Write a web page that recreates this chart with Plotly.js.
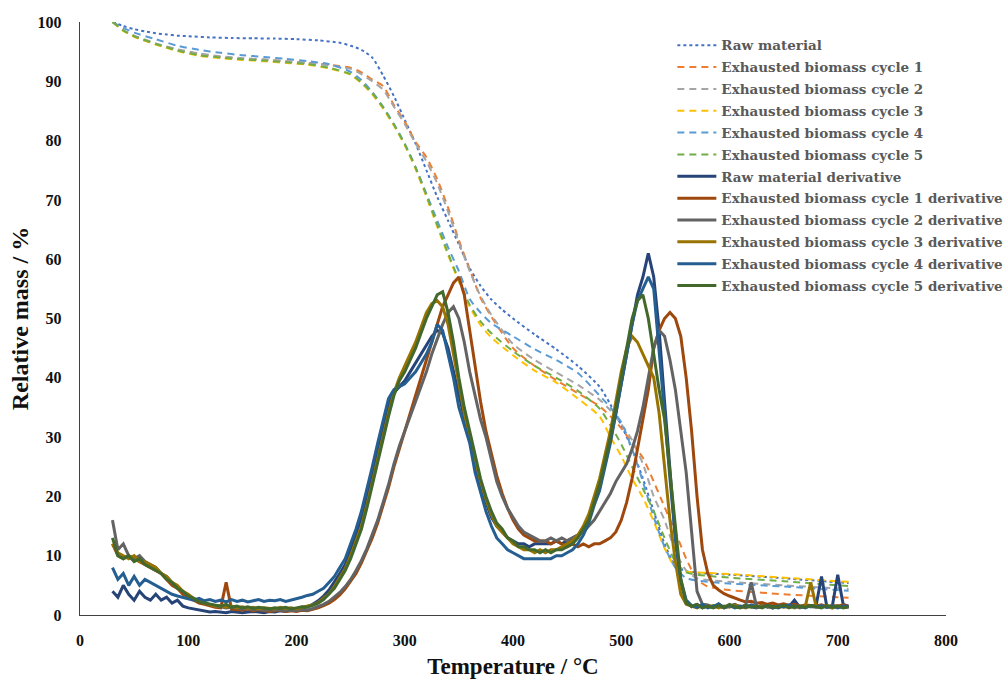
<!DOCTYPE html>
<html>
<head>
<meta charset="utf-8">
<script src="https://cdn.plot.ly/plotly-3.0.1.min.js"></script>
<style>html,body{margin:0;padding:0;background:#fff;}#chart{width:1007px;height:679px;}</style>
</head>
<body>
<div id="chart"></div>
<script>
// ---------- TG curves (relative mass) ----------
const tgRawT = [30,40,50,60,70,80,90,100,120,140,160,180,200,220,240,250,260,270,280,290,300,310,320,330,340,350,360,370,380,390,400,420,440,460,480,490,500,510,520,530,540,550,560,580,600,650,700,710];
const tgRaw  = [100,99.3,98.8,98.4,98.1,97.9,97.7,97.6,97.4,97.3,97.25,97.2,97.1,96.9,96.5,96,95.3,94,91,87.5,83.5,79.5,75,70.5,66.5,62.5,58.5,55.5,53.2,51.5,50,47.3,44.8,42,38.5,35.5,32,28,23,17.5,12,8.3,7.4,7,6.8,6.2,5.5,5.4];

const tgCycT345 = [30,40,50,70,90,110,130,150,170,190,210,230,250,260,270,280,290,300,310,320,330,340,350,360,370,380,400,420,440,460,480,490,500,510,520,530,540,550,560,580,600,650,700,710];
const tgC3 = [100,98.5,97.5,96.2,95.1,94.3,93.9,93.6,93.4,93.1,92.8,92.2,91.1,89.7,87.8,85.4,82.5,79.2,75.2,70.5,65.5,60.7,56.2,52,48.9,46.8,43.8,41.2,39.2,36.5,33.5,30,26.8,23,19.8,15.8,11.3,8,7.3,7.1,6.9,6.3,5.7,5.6];
const tgC4 = [100,99,98.2,97.1,96,95.3,94.8,94.4,94.1,93.8,93.4,92.9,91.6,90.2,88.2,85.7,82.8,79.5,75.5,71,66.5,62,58,53.3,51,49.2,47,44.8,43,40.8,37,35,32.5,28,22.5,16.5,11.5,8,6.2,5.6,5.3,4.8,4.2,4.1];
const tgC5 = [100,98.6,97.6,96.3,95.2,94.4,94,93.7,93.5,93.2,92.9,92.3,91.2,89.8,88,85.6,82.7,79.4,75.5,70.8,65.8,61,56.5,52.3,49.5,47.5,44.5,42,40,37.8,34.8,32,28.8,25,21.3,17.5,13,9,7.2,6.6,6.3,5.7,5.0,4.9];

const tgCycT12 = [30,40,50,70,90,110,130,150,170,190,210,230,250,260,270,280,290,300,310,320,330,340,350,360,370,380,400,420,440,460,480,490,500,510,520,530,540,550,560,570,580,600,650,700,710];
const tgC1 = [100,98.6,97.6,96.3,95.3,94.6,94.1,93.8,93.6,93.4,93.1,92.8,92.3,91.5,90.3,89.2,86,83.2,79.8,77.2,73.5,68.7,63.2,58.3,53.5,50.3,45,42,39.6,37.4,35.2,33.5,31.5,29,26.5,22.5,18.2,14,9.5,6,4.8,4.2,3.5,3.0,2.9];
const tgC2 = [100,98.6,97.7,96.4,95.4,94.7,94.2,93.9,93.7,93.4,93.1,92.7,92.1,91.2,90,88.6,85.7,82.8,79.5,76.5,72.8,68,62.8,58,53.8,50.6,45.7,43,40.9,38.8,36.3,34.5,32.2,29.5,25.5,20,16,10.7,7.5,6.2,5.9,5.6,5.0,4.5,4.4];

// ---------- derivative curves ----------
const dT = [30,35,40,45,50,55,60,65,70,75,80,85,90,95,100,105,110,115,120,125,130,135,140,145,150,155,160,165,170,175,180,185,190,195,200,205,210,215,220,225,230,235,240,245,250,255,260,265,270,275,280,285,290,295,300,305,310,315,320,325,330,335,340,345,350,355,360,365,370,375,380,385,390,395,400,405,410,415,420,425,430,435,440,445,450,455,460,465,470,475,480,485,490,495,500,505,510,515,520,525,530,535,540,545,550,555,560,565,570,575,580,585,590,595,600,605,610,615,620,625,630,635,640,645,650,655,660,665,670,675,680,685,690,695,700,705,710];

const dRaw = [4,3,5,3.5,2.5,4,3,2.5,3.5,2.5,
  3,2,2.5,1.5,1.2,1,0.8,0.6,0.5,0.6,
  0.5,0.4,0.6,0.5,0.4,0.5,0.6,0.5,0.4,0.6,
  0.5,0.7,0.6,0.8,0.9,1.1,1.4,1.8,2.4,3.2,
  4.2,5.5,7,8.5,11,13.5,16.5,20,24,28,
  32,35.5,37.5,38.5,39.5,41,42.5,44,45.5,47,
  48,47.5,45,41,37,33,29,25.5,22,19,
  16.5,15,14,13,12.5,12,12,11.5,12,12,
  12,12,12.5,12,12.5,13,13.5,14.5,16.5,19,
  22,25.5,29.5,34,39,44,49,54,57,61,
  57,48,36,24,13,5.5,2.2,1.4,1.8,1.2,
  1.6,1.3,1.9,1.2,1.5,1.8,1.3,1.6,1.4,1.2,
  1.7,1.3,1.5,1.2,1.6,1.4,2.5,1.3,1.5,1.4,
  1.6,6.5,1.3,1.5,6.8,1.8,1.5];

const dC1 = [12,10,9.5,10,9.5,9,8.5,8,7.5,7,
  6,5,4.5,3.5,3,2.5,2,1.8,1.5,1.3,
  1.2,5.5,1.0,0.9,0.8,1.0,0.7,0.9,0.8,0.6,
  0.7,0.8,0.6,0.7,0.6,0.8,0.7,0.9,1.2,1.6,
  2.0,2.6,3.4,4.4,5.6,7,8.8,10.8,13,15.5,
  18.5,21.5,25,28,31,34,37,40,43,46,
  49,52,54,56,57,54,48,42,36,31,
  27,23.5,20.5,18,16,14.5,13.5,13,12.5,12.5,
  12.5,12,12.5,12,11.5,12,11.5,12,11.5,12,
  12,12.5,13,14,16,19,23,28,33,38,
  45,48,50,51,50,47,40,31,20,11,
  7,5,4.2,3.6,3.2,2.8,2.5,2.2,2.3,2.0,
  2.1,1.8,2.0,1.7,1.9,1.6,1.8,1.5,1.7,1.6,
  1.5,1.7,1.4,1.6,1.5,1.7,1.4];

const dC2 = [16,11,12,10,9.5,10,9,8.5,8,7,
  6.5,5.5,4.5,4,3.2,2.8,2.2,2,1.7,1.5,
  1.4,1.2,1.3,1.1,1.0,1.1,0.9,1.0,0.8,0.9,
  0.8,0.9,0.7,0.8,0.7,0.9,0.8,1.1,1.4,1.8,
  2.3,3.0,3.8,4.8,6,7.5,9.2,11.2,13.5,16,
  19,22,25.5,28.5,31,33.5,36,38.5,41,44,
  46.5,49,51,52,50,46,41,37,33,30,
  26,22.5,20,18,16.5,15,14,13.5,13,12.5,
  12.5,13,12.5,13,12.5,13,13.5,14,15,16,
  17.5,19,20.5,22.5,24,25.5,28,31,35,40,
  45,48,47,43,38,31,24,14,4,1.8,
  1.7,1.3,1.5,1.2,1.6,1.4,1.3,1.7,5.5,1.4,
  1.3,1.6,1.2,1.5,1.4,1.3,1.6,1.2,1.5,1.4,
  1.3,1.6,1.4,1.2,1.5,1.3,1.4];

const dC3 = [12,10.5,10,9.5,10,9,9,8.5,8,7,
  6.5,5.5,5,4,3.5,2.8,2.4,2,1.8,1.5,
  1.6,1.3,1.5,1.2,1.4,1.1,1.3,1.0,1.2,1.1,
  1.0,1.3,1.1,1.2,1.0,1.3,1.5,1.7,2.1,2.8,
  3.6,4.8,6.2,7.8,10,12.5,15,18.5,22.5,26.5,
  30.5,34,37.5,40,42,44,46,48.5,51,52.5,
  53,52,49,44,39,34,30,26,22.5,19.5,
  17,15,14,13,12,11.5,11,11,10.5,11,
  10.5,11,11,11.5,12,12.5,13.5,15,17,20,
  23,27,31,36,41,45,47,46,44,42,
  40,34,25,16,9,3.5,1.8,1.5,1.2,1.6,
  1.3,1.6,1.2,1.5,1.3,1.7,1.4,1.2,1.5,1.3,
  1.6,1.4,1.2,1.5,1.3,1.6,1.2,1.5,1.4,5.5,
  1.4,1.3,1.6,1.2,1.5,1.3,1.4];

const dC4 = [8,6,7,5,6.5,5,6,5.5,5,4.5,
  4,3.5,3.2,3,2.8,2.5,2.8,2.4,2.6,2.3,
  2.5,2.2,2.6,2.3,2.5,2.2,2.4,2.6,2.3,2.5,
  2.4,2.6,2.3,2.5,2.8,3.0,3.3,3.5,4,4.5,
  5.5,6.5,8,9.5,12,14.5,17.5,21,25,29,
  33,36.5,38,38.5,39,40,41,42.5,44,46,
  49,48,44,40,35,32,29,24,20.5,17.5,
  15,13,12,11,10.5,10,9.5,9.5,9.5,9.5,
  9.5,9.5,10,10,10.5,11,12,13.5,15.5,18.5,
  21,25,29,34,39,44,49,53,55,57,
  55,45,34,23,13,6,2.5,1.6,1.3,1.8,
  1.2,1.5,1.8,1.3,1.6,1.2,1.5,1.3,1.7,1.4,
  1.3,1.6,1.2,1.5,1.4,1.7,1.3,1.5,1.2,1.6,
  1.4,1.5,1.3,1.6,1.2,1.5,1.4];

const dC5 = [13,10,9.5,10,9,9.5,8.5,8,7.5,7,
  6,5.5,4.5,4,3.2,2.8,2.2,2,1.8,1.6,
  1.5,1.8,1.3,1.5,1.2,1.4,1.1,1.3,1.2,1.0,
  1.2,1.1,1.3,1.0,1.2,1.4,1.3,1.6,2.0,2.6,
  3.5,4.5,6,7.5,9.5,12,14.5,18,22,26,
  30,33.5,37,39.5,41,43,45,47.5,50,52,
  54,54.5,51,46,40,35,31,27,23,20,
  17.5,15.5,14.5,13,12.5,11.5,11.5,11,11,10.5,
  11,10.5,11,11,11.5,12,13,14.5,16,19,
  22,26,30,35,40,45,50,53,54,50,
  44,38,33,24,14,6,2,1.5,1.8,1.2,
  1.5,1.2,1.6,1.3,1.8,1.4,1.2,1.6,1.3,1.5,
  1.2,1.6,1.4,1.3,1.7,1.2,1.5,1.4,1.3,1.6,
  1.4,1.2,1.6,1.3,1.5,1.2,1.4];

const names = ['Raw material','Exhausted biomass cycle 1','Exhausted biomass cycle 2','Exhausted biomass cycle 3','Exhausted biomass cycle 4','Exhausted biomass cycle 5',
  'Raw material derivative','Exhausted biomass cycle 1 derivative','Exhausted biomass cycle 2 derivative','Exhausted biomass cycle 3 derivative','Exhausted biomass cycle 4 derivative','Exhausted biomass cycle 5 derivative'];

const tgColors = ['#4472C4','#ED7D31','#A5A5A5','#FFC000','#5B9BD5','#70AD47'];
const dColors  = ['#264478','#9E480E','#636363','#997300','#255E91','#43682B'];

const tgX = [tgRawT, tgCycT12, tgCycT12, tgCycT345, tgCycT345, tgCycT345];
const tgY = [tgRaw, tgC1, tgC2, tgC3, tgC4, tgC5];
const dY = [dRaw, dC1, dC2, dC3, dC4, dC5];

const traces = [];
for (let i = 0; i < 6; i++) {
  traces.push({
    x: tgX[i], y: tgY[i], name: names[i], legendgroup: 'g' + i, type: 'scatter', mode: 'lines',
    line: {color: tgColors[i], width: 2, dash: i === 0 ? 'dot' : '7px,5px', shape: 'spline', smoothing: 0.6}
  });
}
for (let i = 0; i < 6; i++) {
  traces.push({
    x: dT, y: dY[i], name: names[6 + i], legendgroup: 'g' + (6 + i), type: 'scatter', mode: 'lines',
    line: {color: dColors[i], width: 3}
  });
}

const serif = 'Liberation Serif, Times New Roman, serif';
const layout = {
  width: 1007, height: 679,
  margin: {l: 80, r: 61, t: 22, b: 64, autoexpand: false},
  paper_bgcolor: '#fff', plot_bgcolor: '#fff',
  showlegend: true,
  legend: {
    x: 0.684, y: 0.9866, xanchor: 'left', yanchor: 'top',
    bgcolor: 'rgba(255,255,255,0)',
    font: {family: 'DejaVu Serif, serif', size: 13.5, color: '#595959', weight: 'bold'},
    traceorder: 'grouped', tracegroupgap: 1.3, itemwidth: 39
  },
  xaxis: {
    range: [0, 800], dtick: 100, tick0: 0,
    showgrid: false, zeroline: false,
    showline: true, linecolor: '#404040', linewidth: 1.3,
    ticks: '', ticklabelstandoff: 10,
    tickfont: {family: serif, size: 16, color: '#111', weight: 'bold'},
    title: {text: 'Temperature / °C', font: {family: serif, size: 23, color: '#111', weight: 'bold'}, standoff: 12}
  },
  yaxis: {
    range: [0, 100], dtick: 10, tick0: 0,
    showgrid: false, zeroline: false,
    showline: true, linecolor: '#404040', linewidth: 1.3,
    ticks: '', ticklabelstandoff: 14,
    tickfont: {family: serif, size: 16, color: '#111', weight: 'bold'},
    title: {text: 'Relative mass / %', font: {family: serif, size: 24, color: '#111', weight: 'bold'}, standoff: 2}
  }
};

Plotly.newPlot('chart', traces, layout, {displayModeBar: false, staticPlot: true});
</script>
</body>
</html>
